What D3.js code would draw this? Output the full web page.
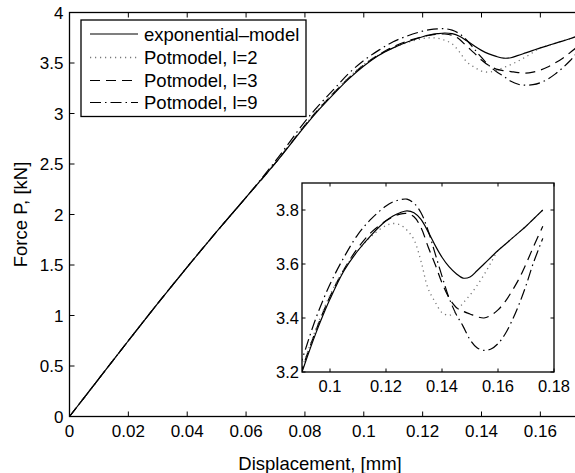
<!DOCTYPE html>
<html>
<head>
<meta charset="utf-8">
<script src="https://cdn.jsdelivr.net/npm/d3@7/dist/d3.min.js"></script>
<style>
  html, body { margin: 0; padding: 0; background: #fff; }
  svg { display: block; }
  text { font-family: "Liberation Sans", Arial, Helvetica, sans-serif; fill: #000; }
</style>
</head>
<body>
<svg id="chart" width="575" height="473"></svg>
<script>
// Displacement grid [mm] shared by all load curves
const displacement = [0, 0.01, 0.02, 0.03, 0.04, 0.05, 0.06, 0.07, 0.08, 0.085,
  0.09, 0.095, 0.1, 0.105, 0.11, 0.115, 0.12, 0.1225, 0.125, 0.1275,
  0.13, 0.1325, 0.135, 0.1375, 0.14, 0.1425, 0.145, 0.1475, 0.15, 0.1525,
  0.155, 0.1575, 0.16, 0.1625, 0.165, 0.1675, 0.17, 0.1725, 0.176];

// Force P [kN] for each model
const exponentialModel = [0, 0.375, 0.75, 1.12, 1.48, 1.83, 2.17, 2.51, 2.875, 3.045,
  3.20, 3.345, 3.47, 3.575, 3.65, 3.71, 3.76, 3.778, 3.79, 3.797,
  3.79, 3.765, 3.72, 3.67, 3.625, 3.59, 3.565, 3.548, 3.552, 3.575,
  3.60, 3.625, 3.65, 3.672, 3.695, 3.717, 3.74, 3.765, 3.80];
const potmodelL2 = [0, 0.375, 0.75, 1.12, 1.48, 1.83, 2.17, 2.51, 2.885, 3.06,
  3.215, 3.36, 3.485, 3.58, 3.65, 3.705, 3.742, 3.75, 3.745, 3.725,
  3.69, 3.61, 3.51, 3.46, 3.42, 3.41, 3.425, 3.455, 3.485, 3.52,
  3.56, 3.605, 3.65, 3.672, 3.695, 3.717, 3.74, 3.765, 3.80];
const potmodelL3 = [0, 0.375, 0.75, 1.12, 1.48, 1.83, 2.17, 2.51, 2.885, 3.055,
  3.21, 3.355, 3.48, 3.58, 3.66, 3.72, 3.76, 3.775, 3.785, 3.787,
  3.775, 3.735, 3.665, 3.60, 3.53, 3.475, 3.44, 3.425, 3.415, 3.405,
  3.40, 3.41, 3.43, 3.46, 3.50, 3.545, 3.60, 3.66, 3.74];
const potmodelL9 = [0, 0.375, 0.75, 1.12, 1.48, 1.83, 2.17, 2.53, 2.92, 3.09,
  3.245, 3.40, 3.525, 3.625, 3.71, 3.77, 3.815, 3.83, 3.838, 3.84,
  3.825, 3.79, 3.725, 3.64, 3.555, 3.475, 3.415, 3.37, 3.32, 3.29,
  3.28, 3.285, 3.305, 3.34, 3.39, 3.45, 3.52, 3.60, 3.695];

const seriesNames = ["exponential\u2013model", "Potmodel, l=2", "Potmodel, l=3", "Potmodel, l=9"];

// Tick values
const mainXTicks = [0, 0.02, 0.04, 0.06, 0.08, 0.1, 0.12, 0.14, 0.16];
const mainYTicks = [0, 0.5, 1, 1.5, 2, 2.5, 3, 3.5, 4];
const insetXTicks = [0.1, 0.12, 0.14, 0.16, 0.18];
const insetYTicks = [3.2, 3.4, 3.6, 3.8];

// Line styles per series
const styles = [
  { stroke: "#000", dash: null, width: 1.2 },
  { stroke: "#777", dash: "1.2,3.8", width: 1.3 },
  { stroke: "#000", dash: "10,6", width: 1.2 },
  { stroke: "#000", dash: "11,4,1.5,4", width: 1.2 }
];

const series = [exponentialModel, potmodelL2, potmodelL3, potmodelL9].map((vals, i) => ({
  name: seriesNames[i],
  style: styles[i],
  points: displacement.map((d, j) => ({ x: d, y: vals[j] }))
}));

const fmt = v => String(+v.toFixed(2));
const svg = d3.select("#chart");

function drawAxesFrame(g, x, y, xt, yt, tickLen, fontSize, xLabelOffset, yLabelOffset) {
  const [x0, x1] = x.range();
  const [y0, y1] = y.range();
  // tick marks pointing inward on all four sides
  const ticks = g.append("g").attr("stroke", "#000").attr("stroke-width", 1);
  xt.forEach(v => {
    const px = x(v);
    ticks.append("line").attr("x1", px).attr("x2", px).attr("y1", y0).attr("y2", y0 - tickLen);
    ticks.append("line").attr("x1", px).attr("x2", px).attr("y1", y1).attr("y2", y1 + tickLen);
  });
  yt.forEach(v => {
    const py = y(v);
    ticks.append("line").attr("x1", x0).attr("x2", x0 + tickLen).attr("y1", py).attr("y2", py);
    ticks.append("line").attr("x1", x1).attr("x2", x1 - tickLen).attr("y1", py).attr("y2", py);
  });
  g.append("rect")
    .attr("x", x0).attr("y", y1).attr("width", x1 - x0).attr("height", y0 - y1)
    .attr("fill", "none").attr("stroke", "#000").attr("stroke-width", 1.3);
  g.append("g").selectAll("text").data(xt).join("text")
    .attr("x", d => x(d)).attr("y", y0 + xLabelOffset)
    .attr("text-anchor", "middle").style("font-size", fontSize + "px")
    .text(fmt);
  g.append("g").selectAll("text").data(yt).join("text")
    .attr("x", x0 - yLabelOffset).attr("y", d => y(d)).attr("dy", "0.36em")
    .attr("text-anchor", "end").style("font-size", fontSize + "px")
    .text(fmt);
}

function drawCurves(g, x, y, clipId) {
  const line = d3.line().x(d => x(d.x)).y(d => y(d.y)).curve(d3.curveCatmullRom.alpha(0.5));
  const cg = g.append("g").attr("clip-path", `url(#${clipId})`);
  series.slice().reverse().forEach(s => {
    cg.append("path")
      .attr("d", line(s.points))
      .attr("fill", "none")
      .attr("stroke", s.style.stroke)
      .attr("stroke-width", s.style.width)
      .attr("stroke-dasharray", s.style.dash);
  });
}

// ---- main axes ----
const xMain = d3.scaleLinear().domain([0, 0.175]).range([69.5, 584.5]);
const yMain = d3.scaleLinear().domain([0, 4]).range([416.5, 12.5]);

const defs = svg.append("defs");
defs.append("clipPath").attr("id", "clipMain").append("rect")
  .attr("x", 69.5).attr("y", 12.5).attr("width", 515).attr("height", 404);

const main = svg.append("g");
drawCurves(main, xMain, yMain, "clipMain");
drawAxesFrame(main, xMain, yMain, mainXTicks, mainYTicks, 5, 17, 20.5, 6);

svg.append("text")
  .attr("x", (xMain.range()[0] + xMain.range()[1]) / 2 - 7).attr("y", 470)
  .attr("text-anchor", "middle").style("font-size", "18.5px")
  .text("Displacement, [mm]");
svg.append("text")
  .attr("transform", `translate(27,${(yMain.range()[0] + yMain.range()[1]) / 2}) rotate(-90)`)
  .attr("text-anchor", "middle").style("font-size", "18.5px")
  .text("Force P, [kN]");

// ---- legend ----
const legend = svg.append("g");
legend.append("rect")
  .attr("x", 81).attr("y", 20).attr("width", 225).attr("height", 96.5)
  .attr("fill", "#fff").attr("stroke", "#000").attr("stroke-width", 1.3);
const rowY = [34, 57.5, 80.5, 102.5];
series.forEach((s, i) => {
  legend.append("line")
    .attr("x1", 90).attr("x2", 138).attr("y1", rowY[i]).attr("y2", rowY[i])
    .attr("stroke", s.style.stroke).attr("stroke-width", s.style.width)
    .attr("stroke-dasharray", s.style.dash);
  legend.append("text")
    .attr("x", 144).attr("y", rowY[i]).attr("dy", "0.36em")
    .style("font-size", "18.5px")
    .text(s.name);
});

// ---- inset axes ----
const xInset = d3.scaleLinear().domain([0.09, 0.18]).range([302, 554]);
const yInset = d3.scaleLinear().domain([3.2, 3.9]).range([372, 183]);
defs.append("clipPath").attr("id", "clipInset").append("rect")
  .attr("x", 302).attr("y", 183).attr("width", 252).attr("height", 189);

const inset = svg.append("g");
inset.append("rect")
  .attr("x", 302).attr("y", 183).attr("width", 252).attr("height", 189)
  .attr("fill", "#fff");
drawCurves(inset, xInset, yInset, "clipInset");
drawAxesFrame(inset, xInset, yInset, insetXTicks, insetYTicks, 3.5, 16.5, 19.5, 3);
</script>
</body>
</html>
